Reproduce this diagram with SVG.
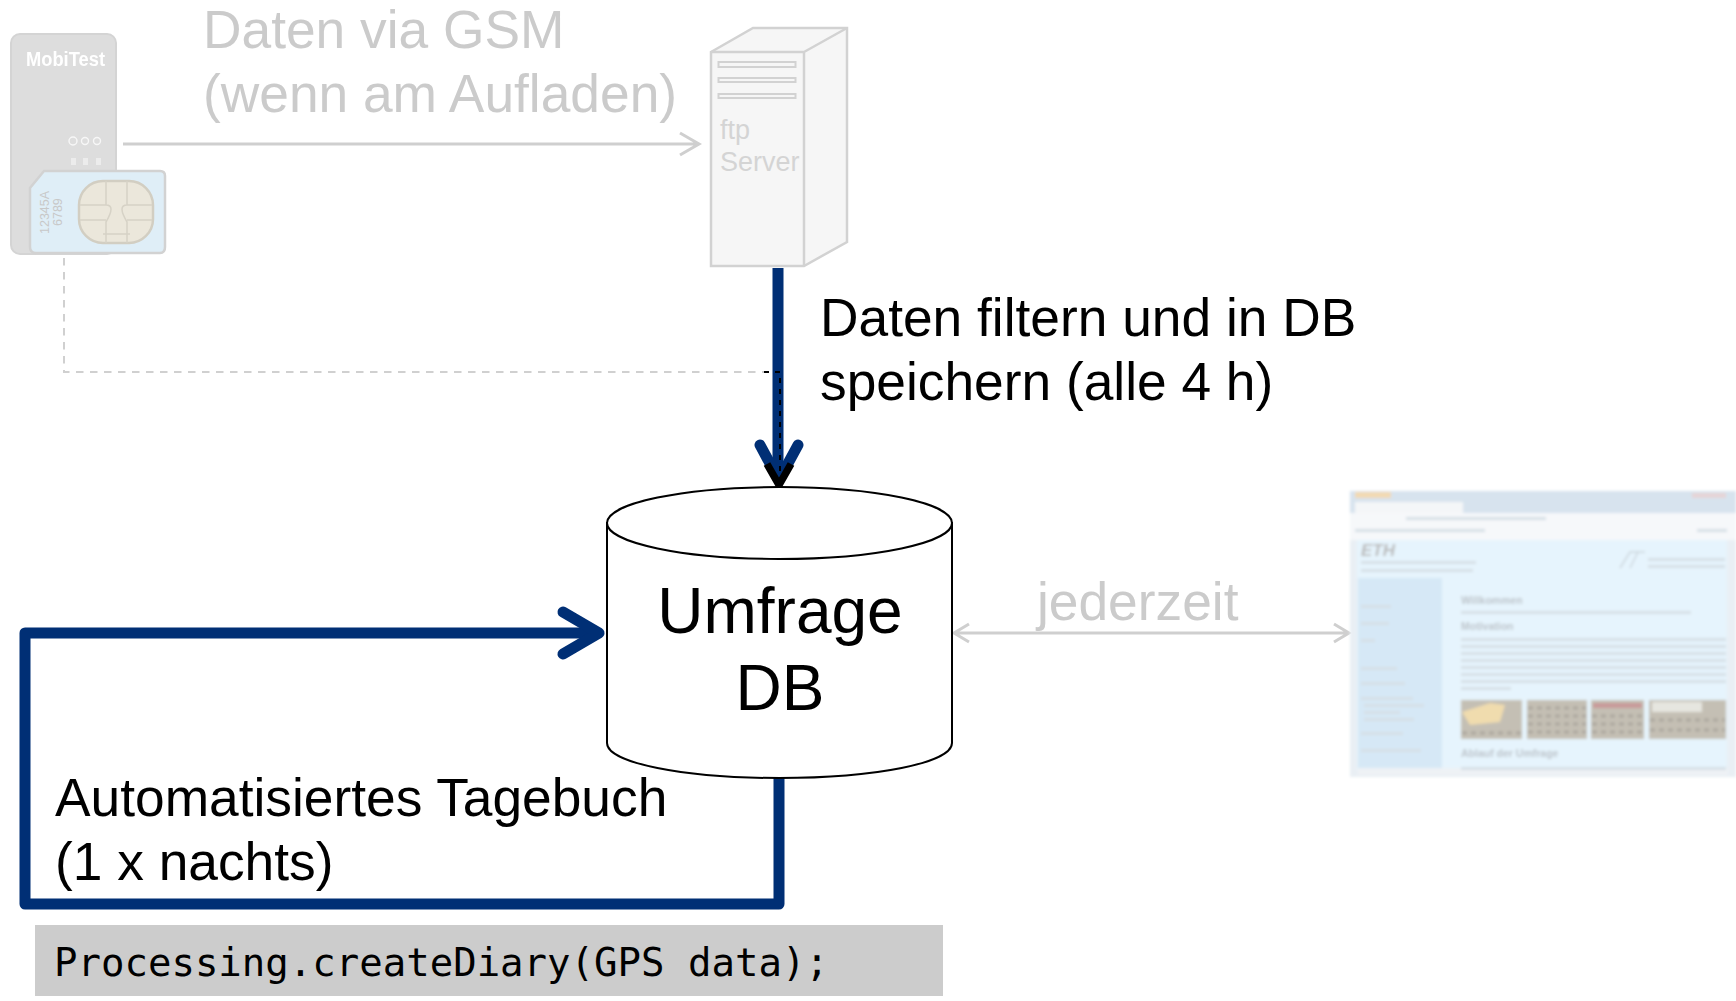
<svg xmlns="http://www.w3.org/2000/svg" width="1736" height="1001" viewBox="0 0 1736 1001">
<style>
text{font-family:"Liberation Sans",Arial,sans-serif}
.big{font-size:53.3px;fill:#000}
.pale{font-size:53.3px;fill:#cbcbcb}
.db{font-size:64px;fill:#000;text-anchor:middle}
.srv{font-size:27px;fill:#d4d4d4}
.gl{fill:none;stroke:#cfcfcf;stroke-width:3}
.blue{fill:none;stroke:#002f75;stroke-width:11;stroke-linecap:round;stroke-linejoin:round}
.bar{fill:#d6dfe6}
.ph{fill:#c4bfb4}
.tex{fill:none;stroke:#aaa69d;stroke-width:3;stroke-dasharray:5 4}
</style>
<defs>
<filter id="b1" x="-5%" y="-5%" width="110%" height="110%"><feGaussianBlur stdDeviation="0.7"/></filter>
<filter id="b2" x="-5%" y="-5%" width="110%" height="110%"><feGaussianBlur stdDeviation="1.500"/></filter>
</defs>
<rect width="1736" height="1001" fill="#fff"/>
<g id="connectors">
<path class="gl" d="M123 144H699M680 133L699 144L680 155"/>
<path d="M64 258V372H764" fill="none" stroke="#d0d0d0" stroke-width="2" stroke-dasharray="7.500 6.500"/>
<path d="M1349 633H954M969 624L954 633L969 642M1334 624L1349 633L1334 642" class="gl"/>
<path class="blue" d="M778 268V478" style="stroke-linecap:butt"/>
<path class="blue" d="M760 445L779 480L798 445"/>
<path d="M767 464L779 485L791 464" fill="none" stroke="#000" stroke-width="7.500"/>
<path d="M764 372H780V480" fill="none" stroke="#000" stroke-width="2" stroke-dasharray="5 6"/>
<path class="blue" d="M779 779V904H25V633H595"/>
<path class="blue" d="M563 612L599 633L563 654"/>
</g>
<g id="device" filter="url(#b1)">
<rect x="11" y="34" width="105" height="220" rx="9" fill="#dddddd" stroke="#d4d4d4" stroke-width="2"/>
<text x="26" y="66" font-size="20" font-weight="700" fill="#ffffff" textLength="79" lengthAdjust="spacingAndGlyphs">MobiTest</text>
<circle cx="73" cy="141" r="4" fill="none" stroke="#f7f7f7" stroke-width="1.400"/>
<circle cx="85" cy="141" r="3.500" fill="none" stroke="#f7f7f7" stroke-width="1.400"/>
<circle cx="97" cy="141" r="3.500" fill="none" stroke="#f7f7f7" stroke-width="1.400"/>
<rect x="71" y="158" width="5" height="7" fill="#ececec"/><rect x="83" y="158" width="5" height="7" fill="#ececec"/><rect x="96" y="158" width="5" height="7" fill="#ececec"/>
</g>
<g id="sim">
<path d="M44 171H160Q165 171 165 176V247Q165 253 160 253H36Q30 253 30 247V188Z" fill="#dfeef7" stroke="#d2d2d2" stroke-width="2.500"/>
<rect x="79" y="181" width="74" height="62" rx="24" fill="#ebe7db" stroke="#d2cec2" stroke-width="2.500"/>
<path d="M80 205H106M80 220H106M127 205H152M127 220H152M106 181V205Q116 205 106 222V243M127 181V205Q117 205 127 222V243M103 234H130" fill="none" stroke="#d6d2c6" stroke-width="1.500"/>
<text transform="translate(49,234) rotate(-90)" font-size="12.500" fill="#c8c8c8">12345A</text>
<text transform="translate(62,226) rotate(-90)" font-size="12.500" fill="#c8c8c8">6789</text>
</g>
<g id="gsm-label">
<text class="pale" x="203" y="48">Daten via GSM</text>
<text class="pale" x="203" y="112">(wenn am Aufladen)</text>
</g>
<g id="server">
<path d="M711 52L753 28H847V242L804 266H711Z" fill="#f6f6f6" stroke="#d2d2d2" stroke-width="2.500"/>
<path d="M711 52H804V266M804 52L847 28" fill="none" stroke="#d2d2d2" stroke-width="2.500"/>
<rect x="718.500" y="62" width="77" height="5" fill="none" stroke="#d2d2d2" stroke-width="2"/>
<rect x="718.500" y="78" width="77" height="4" fill="none" stroke="#d2d2d2" stroke-width="2"/>
<rect x="718.500" y="94" width="77" height="4" fill="none" stroke="#d2d2d2" stroke-width="2"/>
<text class="srv" x="720" y="139">ftp</text>
<text class="srv" x="720" y="171">Server</text>
</g>
<g id="filter-label">
<text class="big" x="820" y="336">Daten filtern und in DB</text>
<text class="big" x="820" y="400">speichern (alle 4 h)</text>
</g>
<g id="umfrage-db">
<path d="M607 522V743C607 763 684 778 779.500 778S952 763 952 743V522" fill="#fff" stroke="#000" stroke-width="2"/>
<ellipse cx="779.500" cy="523" rx="172.500" ry="36" fill="#fff" stroke="#000" stroke-width="2"/>
<text class="db" x="780" y="633">Umfrage</text>
<text class="db" x="780" y="710">DB</text>
</g>
<g id="jederzeit-label">
<text class="pale" x="1037" y="620">jederzeit</text>
</g>
<g id="diary-label">
<text class="big" x="55" y="816">Automatisiertes Tagebuch</text>
<text class="big" x="55" y="880">(1 x nachts)</text>
</g>
<g id="code">
<rect x="35" y="925" width="908" height="71" fill="#cccccc"/>
<text x="54" y="976" font-size="39" style="font-family:'DejaVu Sans Mono',monospace" fill="#000">Processing.createDiary(GPS data);</text>
</g>
<g id="website" filter="url(#b2)">
<rect x="1350" y="491" width="386" height="286" fill="#e9eff4"/>
<rect x="1350" y="491" width="386" height="22" fill="#d7e3ee"/>
<rect x="1355" y="492" width="36" height="6" fill="#f2d9b2"/>
<rect x="1692" y="493" width="34" height="5" fill="#e6d4d6"/>
<rect x="1355" y="502" width="108" height="11" fill="#f4f6f8"/>
<rect x="1350" y="513" width="386" height="27" fill="#f6f8fa"/>
<rect class="bar" x="1406" y="517" width="140" height="3"/><rect class="bar" x="1355" y="529" width="130" height="3"/><rect class="bar" x="1697" y="529" width="30" height="3"/>
<rect x="1357" y="540" width="370" height="230" fill="#e6f4fd"/>
<rect x="1358" y="578" width="84" height="190" fill="#d6e8f6"/>
<rect x="1358" y="768" width="370" height="7" fill="#eef2f5"/>
<text x="1361" y="556" font-size="17" font-weight="700" font-style="italic" fill="#b8b8b8">ETH</text>
<rect class="bar" x="1361" y="561" width="115" height="3"/><rect class="bar" x="1361" y="569" width="112" height="3"/>
<rect class="bar" x="1648" y="558" width="77" height="3"/><rect class="bar" x="1648" y="565" width="77" height="3"/>
<path d="M1620 568L1630 552H1645M1630 568L1638 552" fill="none" stroke="#ccd5dc" stroke-width="1.500"/>
<rect class="bar" x="1361" y="605" width="30" height="3"/><rect class="bar" x="1361" y="622" width="28" height="3"/><rect class="bar" x="1361" y="639" width="14" height="3"/>
<rect class="bar" x="1361" y="667" width="36" height="3"/><rect class="bar" x="1361" y="682" width="44" height="3"/>
<rect class="bar" x="1361" y="697" width="52" height="3"/><rect class="bar" x="1364" y="704" width="60" height="3"/><rect class="bar" x="1364" y="711" width="36" height="3"/><rect class="bar" x="1364" y="718" width="50" height="3"/>
<rect class="bar" x="1361" y="732" width="42" height="3"/><rect class="bar" x="1361" y="749" width="60" height="3"/>
<text x="1461" y="604" font-size="10.500" font-weight="700" fill="#bcc3c9">Willkommen</text>
<text x="1461" y="630" font-size="10.500" font-weight="700" fill="#bcc3c9">Motivation</text>
<text x="1461" y="757" font-size="10.500" font-weight="700" fill="#bcc3c9">Ablauf der Umfrage</text>
<rect class="bar" x="1461" y="611" width="230" height="3"/>
<rect class="bar" x="1461" y="638" width="265" height="3"/><rect class="bar" x="1461" y="645" width="265" height="3"/><rect class="bar" x="1461" y="652" width="265" height="3"/><rect class="bar" x="1461" y="659" width="265" height="3"/><rect class="bar" x="1461" y="666" width="265" height="3"/><rect class="bar" x="1461" y="673" width="265" height="3"/><rect class="bar" x="1461" y="680" width="265" height="3"/><rect class="bar" x="1461" y="687" width="50" height="3"/>
<rect class="ph" x="1461" y="700" width="61" height="39"/>
<rect class="ph" x="1527" y="700" width="60" height="39"/>
<rect class="ph" x="1591" y="700" width="53" height="39"/>
<rect class="ph" x="1649" y="700" width="77" height="39"/>
<path class="tex" d="M1462 733H1522M1528 708H1586M1528 716H1586M1528 724H1586M1528 732H1586M1592 716H1643M1592 724H1643M1592 732H1643M1650 720H1725M1650 730H1725"/>
<path d="M1462 712L1490 703L1505 705L1500 722L1470 725Z" fill="#f0dcae"/>
<rect x="1593" y="703" width="49" height="5" fill="#c99a9a"/>
<rect x="1652" y="702" width="50" height="10" fill="#e6e6e0"/>
<rect class="bar" x="1461" y="767" width="265" height="3"/>
</g>
</svg>
